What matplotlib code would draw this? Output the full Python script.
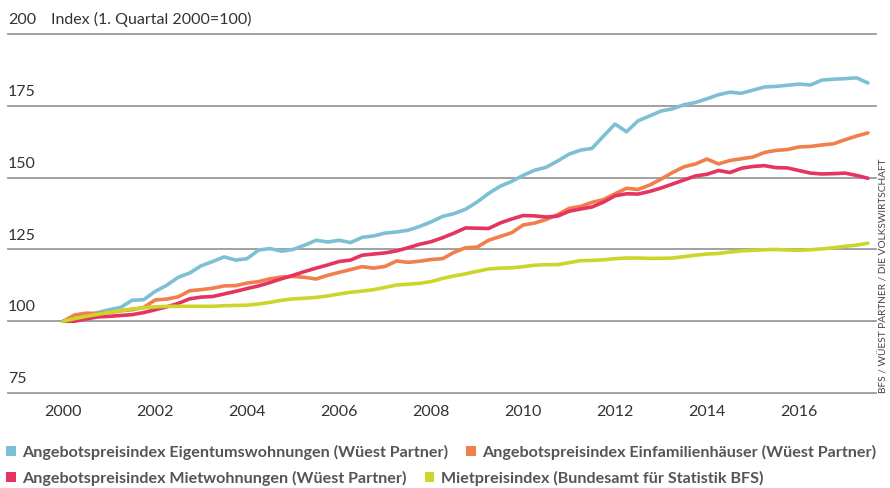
import numpy as np
import matplotlib
matplotlib.use("Agg")
import matplotlib.pyplot as plt
from matplotlib.patches import Patch

# =========================
# Daten (Quartale ab 1. Quartal 2000, Index 2000 Q1 = 100)
# =========================

quartale = 2000 + np.arange(71) / 4

eigentum = [100, 100.8, 102, 103, 104, 104.8, 107.3, 107.5, 110.4, 112.5,
            115.3, 116.8, 119.3, 120.8, 122.4, 121.3, 121.8, 124.8, 125.3, 124.4,
            125, 126.5, 128.2, 127.6, 128.2, 127.4, 129.2, 129.7, 130.7, 131.1,
            131.7, 133, 134.6, 136.5, 137.5, 139, 141.5, 144.5, 147, 148.7,
            150.8, 152.6, 153.6, 155.8, 158.2, 159.6, 160.2, 164.5, 168.7, 166,
            169.8, 171.5, 173.2, 174, 175.4, 176.2, 177.5, 178.9, 179.8, 179.4,
            180.5, 181.6, 181.8, 182.2, 182.6, 182.3, 184, 184.3, 184.5, 184.8,
            183]

einfamilien = [100, 102.2, 102.8, 102.7, 103, 103.6, 104, 104.8, 107.4, 107.7,
               108.5, 110.6, 111, 111.5, 112.3, 112.4, 113.3, 113.8, 114.8, 115.4,
               115.6, 115.3, 114.7, 116, 117, 118, 119, 118.5, 119.1, 121,
               120.5, 120.9, 121.5, 121.8, 124, 125.6, 125.8, 128.2, 129.5, 130.8,
               133.5, 134.2, 135.4, 137.1, 139.3, 140, 141.4, 142.4, 144.4, 146.3,
               145.9, 147.4, 149.5, 151.8, 153.8, 154.8, 156.5, 154.8, 156, 156.6,
               157.2, 158.8, 159.5, 159.8, 160.7, 160.9, 161.4, 161.8, 163.2, 164.5,
               165.6]

mietwohnungen = [100, 100, 100.8, 101.5, 101.7, 102, 102.3, 103, 104, 105,
                 106.2, 107.8, 108.4, 108.6, 109.5, 110.4, 111.4, 112.3, 113.5, 114.8,
                 116, 117.3, 118.5, 119.6, 120.8, 121.3, 123, 123.4, 123.8, 124.5,
                 125.6, 126.8, 127.7, 129.1, 130.7, 132.5, 132.4, 132.3, 134.2, 135.6,
                 136.8, 136.7, 136.3, 136.6, 138.3, 139.1, 139.8, 141.5, 143.7, 144.4,
                 144.3, 145.2, 146.4, 147.8, 149.2, 150.6, 151.2, 152.5, 151.8, 153.3,
                 153.9, 154.2, 153.5, 153.4, 152.5, 151.6, 151.3, 151.4, 151.6, 150.8,
                 149.8]

mietpreis = [100, 100.9, 101.7, 102.4, 103, 103.7, 104.3, 104.7, 105, 105.2,
             105.2, 105.2, 105.2, 105.2, 105.4, 105.5, 105.6, 106, 106.6, 107.3,
             107.8, 108, 108.3, 108.8, 109.5, 110.1, 110.5, 111, 111.8, 112.6,
             112.9, 113.2, 113.8, 114.9, 115.8, 116.5, 117.4, 118.2, 118.5, 118.6,
             119, 119.5, 119.7, 119.7, 120.4, 121.1, 121.2, 121.4, 121.8, 122,
             122, 121.9, 121.9, 122, 122.5, 123, 123.4, 123.6, 124.1, 124.5,
             124.7, 124.9, 125, 124.8, 124.7, 124.9, 125.2, 125.6, 126.1, 126.5,
             127.2]

y_ticks = [75, 100, 125, 150, 175, 200]
x_ticks = [2000, 2002, 2004, 2006, 2008, 2010, 2012, 2014, 2016]

labels = ["Angebotspreisindex Eigentumswohnungen (Wüest Partner)",
          "Angebotspreisindex Einfamilienhäuser (Wüest Partner)",
          "Angebotspreisindex Mietwohnungen (Wüest Partner)",
          "Mietpreisindex (Bundesamt für Statistik BFS)"]
farben = ["#7dc0d4", "#f07f4c", "#e5345f", "#cdd52b"]

# =========================
# Grafik
# =========================

plt.rcParams['font.family'] = ['Lato', 'DejaVu Sans']
text_grau = "#333333"

fig = plt.figure(figsize=(8.9, 4.88), dpi=100)
ax = fig.add_axes([0.009, 0.1947, 0.975, 0.7353])

ax.set_xlim(1998.8, 2017.67)
ax.set_ylim(75, 200)

for werte, farbe in zip([eigentum, einfamilien, mietwohnungen, mietpreis], farben):
    ax.plot(quartale, werte, color=farbe, lw=2.6, solid_joinstyle='round',
            solid_capstyle='round', zorder=3)

for v in y_ticks:
    ax.axhline(v, color="#9a9a9a", lw=1.3, zorder=1, clip_on=False)
    ax.annotate(str(v), xy=(0, v), xycoords=('axes fraction', 'data'),
                xytext=(0, 5), textcoords='offset points',
                ha='left', va='bottom', fontsize=11.5, color=text_grau)

ax.annotate("Index (1. Quartal 2000=100)", xy=(0, 200),
            xycoords=('axes fraction', 'data'), xytext=(31, 5),
            textcoords='offset points', ha='left', va='bottom',
            fontsize=11.5, color=text_grau)

ax.set_yticks([])
ax.set_xticks(x_ticks)
ax.set_xticklabels([str(x) for x in x_ticks], fontsize=11.5, color=text_grau)
ax.tick_params(axis='x', length=0, pad=9)
for s in ax.spines.values():
    s.set_visible(False)

fig.text(0.9935, 0.195, "BFS / WÜEST PARTNER / DIE VOLKSWIRTSCHAFT",
         rotation=90, ha='center', va='bottom', fontsize=7.3, color="#444444")

# Legende in zwei Zeilen
leg_font = {'family': ['Lato', 'DejaVu Sans'], 'size': 11.6, 'weight': 'bold'}
zeilen = [(0, 1, 1 - 452 / 488), (2, 3, 1 - 478 / 488)]
for a, b, y in zeilen:
    handles = [Patch(facecolor=farben[i], edgecolor='none') for i in (a, b)]
    leg = fig.legend(handles, [labels[a], labels[b]], loc='center left',
                     bbox_to_anchor=(0.007, y), bbox_transform=fig.transFigure,
                     ncol=2, frameon=False, prop=leg_font,
                     handlelength=0.6, handleheight=0.6, handletextpad=0.4,
                     columnspacing=1.1, borderaxespad=0, borderpad=0)
    for t in leg.get_texts():
        t.set_color("#555555")

fig.savefig("out.png", dpi=100)
